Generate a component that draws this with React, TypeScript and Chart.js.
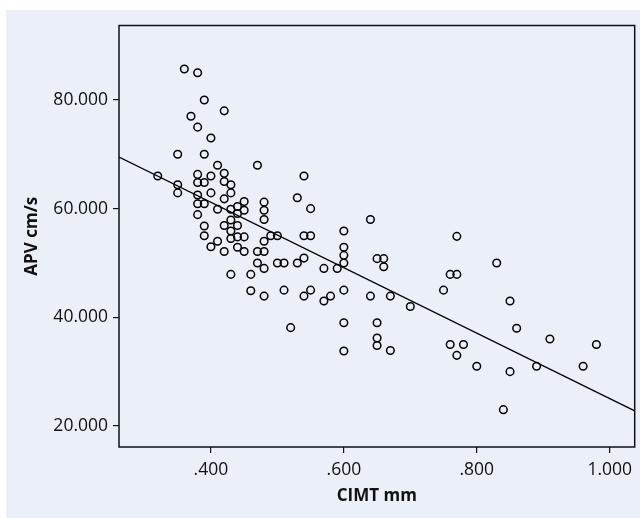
import React, { useEffect, useRef } from "react";
import { Chart, registerables } from "chart.js";

Chart.register(...registerables);

// CIMT (mm) of each subject
const cimt = [
  0.32, 0.35, 0.35, 0.35, 0.36, 0.37, 0.38, 0.38, 0.38, 0.38,
  0.38, 0.38, 0.38, 0.39, 0.39, 0.39, 0.39, 0.39, 0.39, 0.40,
  0.40, 0.40, 0.40, 0.41, 0.41, 0.41, 0.42, 0.42, 0.42, 0.42,
  0.42, 0.42, 0.43, 0.43, 0.43, 0.43, 0.43, 0.43, 0.43, 0.44,
  0.44, 0.44, 0.44, 0.44, 0.45, 0.45, 0.45, 0.45, 0.46, 0.46,
  0.47, 0.47, 0.47, 0.48, 0.48, 0.48, 0.48, 0.48, 0.48, 0.48,
  0.49, 0.50, 0.50, 0.51, 0.51, 0.52, 0.53, 0.53, 0.54, 0.54,
  0.54, 0.54, 0.55, 0.55, 0.55, 0.57, 0.57, 0.58, 0.59, 0.60,
  0.60, 0.60, 0.60, 0.60, 0.60, 0.60, 0.64, 0.64, 0.65, 0.66,
  0.66, 0.65, 0.65, 0.65, 0.67, 0.67, 0.70, 0.75, 0.76, 0.77,
  0.77, 0.76, 0.78, 0.77, 0.80, 0.83, 0.85, 0.86, 0.85, 0.84,
  0.89, 0.91, 0.96, 0.98,
];

// APV (cm/s) of each subject
const apv = [
  66.0, 70.0, 64.4, 62.9, 85.7, 77.0, 85.0, 75.0, 66.3, 64.8,
  62.5, 60.9, 58.9, 80.0, 70.0, 64.8, 60.9, 56.8, 55.0, 73.0,
  66.0, 62.9, 53.0, 68.0, 59.9, 54.0, 78.0, 66.5, 65.0, 61.8,
  56.9, 52.1, 64.4, 62.9, 59.9, 57.9, 55.9, 54.5, 47.9, 60.4,
  59.1, 56.9, 54.8, 52.9, 61.3, 59.7, 54.8, 52.1, 47.9, 44.9,
  68.0, 52.1, 50.0, 61.2, 59.7, 58.0, 54.0, 52.1, 49.0, 43.9,
  55.0, 55.0, 50.0, 50.0, 45.0, 38.1, 62.0, 50.0, 66.0, 55.0,
  50.9, 43.9, 60.0, 55.0, 45.0, 49.0, 43.0, 43.9, 49.0, 55.9,
  52.9, 51.4, 50.0, 45.0, 39.0, 33.8, 58.0, 43.9, 50.8, 50.8,
  49.3, 39.0, 36.2, 34.8, 43.9, 33.9, 42.0, 45.0, 47.9, 47.9,
  54.9, 35.0, 35.0, 33.0, 31.0, 50.0, 43.0, 38.0, 30.0, 23.0,
  31.0, 36.0, 31.0, 35.0,
];

const xTickValues = [0.4, 0.6, 0.8, 1.0];
const yTickValues = [20, 40, 60, 80];
const xRange = [0.2617, 1.0376];
const yRange = [16.13, 93.71];

// fitted regression line APV = a + b * CIMT
const fitIntercept = 85.25;
const fitSlope = -60.2;

const xTitle = "CIMT mm";
const yTitle = "APV cm/s";

const fmtX = (v: number) => {
  const s = v.toFixed(3);
  return s.startsWith("0") ? s.slice(1) : s;
};
const fmtY = (v: number) => v.toFixed(3);

const FONT = "'Open Sans', 'Noto Sans', sans-serif";

const boxPlugin = {
  id: "plotBox",
  afterDatasetsDraw(chart: any) {
    const { ctx, chartArea } = chart;
    ctx.save();
    ctx.strokeStyle = "#111";
    ctx.lineWidth = 1.5;
    ctx.strokeRect(
      chartArea.left,
      chartArea.top,
      chartArea.right - chartArea.left,
      chartArea.bottom - chartArea.top
    );
    ctx.restore();
  },
};

export default function App() {
  const canvasRef = useRef<HTMLCanvasElement | null>(null);

  useEffect(() => {
    if (!canvasRef.current) return;
    const points = cimt.map((x, i) => ({ x, y: apv[i] }));
    const line = xRange.map((x) => ({ x, y: fitIntercept + fitSlope * x }));

    const chart = new Chart(canvasRef.current, {
      type: "scatter",
      data: {
        datasets: [
          {
            type: "scatter",
            data: points,
            pointStyle: "circle",
            pointRadius: 3.8,
            pointHoverRadius: 3.8,
            pointBorderWidth: 1.5,
            pointBackgroundColor: "rgba(0,0,0,0)",
            pointBorderColor: "#000",
          } as any,
          {
            type: "line",
            data: line,
            borderColor: "#000",
            borderWidth: 1.4,
            pointRadius: 0,
            fill: false,
            tension: 0,
          } as any,
        ],
      },
      options: {
        responsive: false,
        animation: false,
        events: [],
        layout: { padding: { top: 15.5, right: 5, left: 0, bottom: 0 } },
        plugins: {
          legend: { display: false },
          tooltip: { enabled: false },
        },
        scales: {
          x: {
            type: "linear",
            min: xRange[0],
            max: xRange[1],
            afterBuildTicks: (scale: any) => {
              scale.ticks = xTickValues.map((v) => ({ value: v }));
            },
            afterFit: (scale: any) => {
              scale.height = 71;
            },
            border: { display: false },
            grid: {
              display: true,
              drawOnChartArea: false,
              drawTicks: true,
              tickLength: 6,
              color: "#111",
              lineWidth: 1.2,
            },
            ticks: {
              color: "#111",
              padding: 7,
              maxRotation: 0,
              autoSkip: false,
              font: { family: FONT, size: 17.5 },
              callback: (v: any) => fmtX(Number(v)),
            },
            title: {
              display: true,
              text: xTitle,
              color: "#111",
              font: { family: FONT, size: 17, weight: "bold" },
              padding: { top: 0, bottom: 12 },
            },
          },
          y: {
            type: "linear",
            min: yRange[0],
            max: yRange[1],
            afterBuildTicks: (scale: any) => {
              scale.ticks = yTickValues.map((v) => ({ value: v }));
            },
            afterFit: (scale: any) => {
              scale.width = 113;
            },
            border: { display: false },
            grid: {
              display: true,
              drawOnChartArea: false,
              drawTicks: true,
              tickLength: 6,
              color: "#111",
              lineWidth: 1.2,
            },
            ticks: {
              color: "#111",
              padding: 5,
              autoSkip: false,
              font: { family: FONT, size: 17.5 },
              callback: (v: any) => fmtY(Number(v)),
            },
            title: {
              display: true,
              text: yTitle,
              color: "#111",
              font: { family: FONT, size: 17, weight: "bold" },
              padding: { top: 16, bottom: 0 },
            },
          },
        },
      },
      plugins: [boxPlugin],
    });
    return () => chart.destroy();
  }, []);

  return (
    <div
      style={{
        position: "absolute",
        left: 6,
        top: 10,
        width: 634,
        height: 508,
        background: "#EBEFF8",
      }}
    >
      <canvas
        ref={canvasRef}
        width={634}
        height={508}
        style={{ display: "block", width: 634, height: 508 }}
      />
    </div>
  );
}
